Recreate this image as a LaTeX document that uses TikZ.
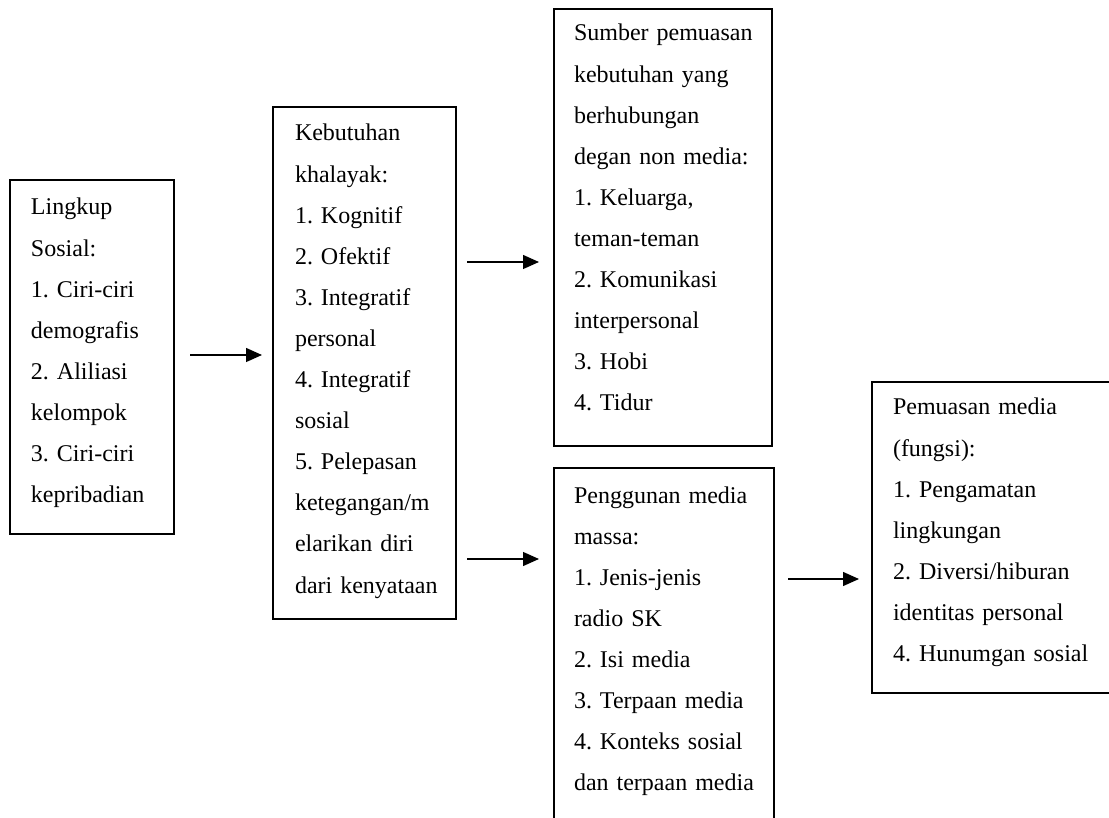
\documentclass[tikz,border=0pt]{standalone}
\usepackage{fontspec}
\setmainfont{Liberation Serif}
\usetikzlibrary{calc,arrows.meta}
\frenchspacing
\begin{document}
\begin{tikzpicture}[x=0.5pt,y=-0.5pt,
  boxnode/.style={draw, line width=0.75pt, anchor=north west, inner sep=0pt, outer sep=0pt},
  txtnode/.style={anchor=base west, inner sep=0pt, outer sep=0pt, align=left, text width=110pt,
    font=\fontsize{12pt}{20.55pt}\selectfont\frenchspacing},
  flow/.style={line width=0.65pt, -{Triangle[length=8pt,width=7pt]}}]
\useasboundingbox (0,0) rectangle (1109,818);
\node[boxnode, minimum width=82pt, minimum height=177pt] (b1) at (10,180) {};
\node[boxnode, minimum width=91.5pt, minimum height=256pt] (b2) at (273,107) {};
\node[boxnode, minimum width=109pt, minimum height=218.5pt] (b3) at (554,9) {};
\node[boxnode, minimum width=110pt, minimum height=200pt] (b4) at (554,468) {};
\node[boxnode, minimum width=160pt, minimum height=155.5pt] (b5) at (872,382) {};
\node[txtnode] (t1) at ($(b1.north west)+(21,35)$) {Lingkup\\Sosial:\\1. Ciri-ciri\\demografis\\2. Aliliasi\\kelompok\\3. Ciri-ciri\\kepribadian};
\node[txtnode] (t2) at ($(b2.north west)+(22,34)$) {Kebutuhan\\khalayak:\\1. Kognitif\\2. Ofektif\\3. Integratif\\personal\\4. Integratif\\sosial\\5. Pelepasan\\ketegangan/m\\elarikan diri\\dari kenyataan};
\node[txtnode] (t3) at ($(b3.north west)+(20,32)$) {Sumber pemuasan\\kebutuhan yang\\berhubungan\\degan non media:\\1. Keluarga,\\teman-teman\\2. Komunikasi\\interpersonal\\3. Hobi\\4. Tidur};
\node[txtnode] (t4) at ($(b4.north west)+(20,35)$) {Penggunan media\\massa:\\1. Jenis-jenis\\radio SK\\2. Isi media\\3. Terpaan media\\4. Konteks sosial\\dan terpaan media};
\node[txtnode] (t5) at ($(b5.north west)+(21,33)$) {Pemuasan media\\(fungsi):\\1. Pengamatan\\lingkungan\\2. Diversi/hiburan\\identitas personal\\4. Hunumgan sosial};
\coordinate (a1s) at (190,355);
\coordinate (a1e) at (262,355);
\coordinate (a2s) at (467,262);
\coordinate (a2e) at (539,262);
\coordinate (a3s) at (467,559);
\coordinate (a3e) at (539,559);
\coordinate (a4s) at (788,579);
\coordinate (a4e) at (859,579);
\draw[flow] (a1s) -- (a1e);
\draw[flow] (a2s) -- (a2e);
\draw[flow] (a3s) -- (a3e);
\draw[flow] (a4s) -- (a4e);
\end{tikzpicture}
\end{document}
